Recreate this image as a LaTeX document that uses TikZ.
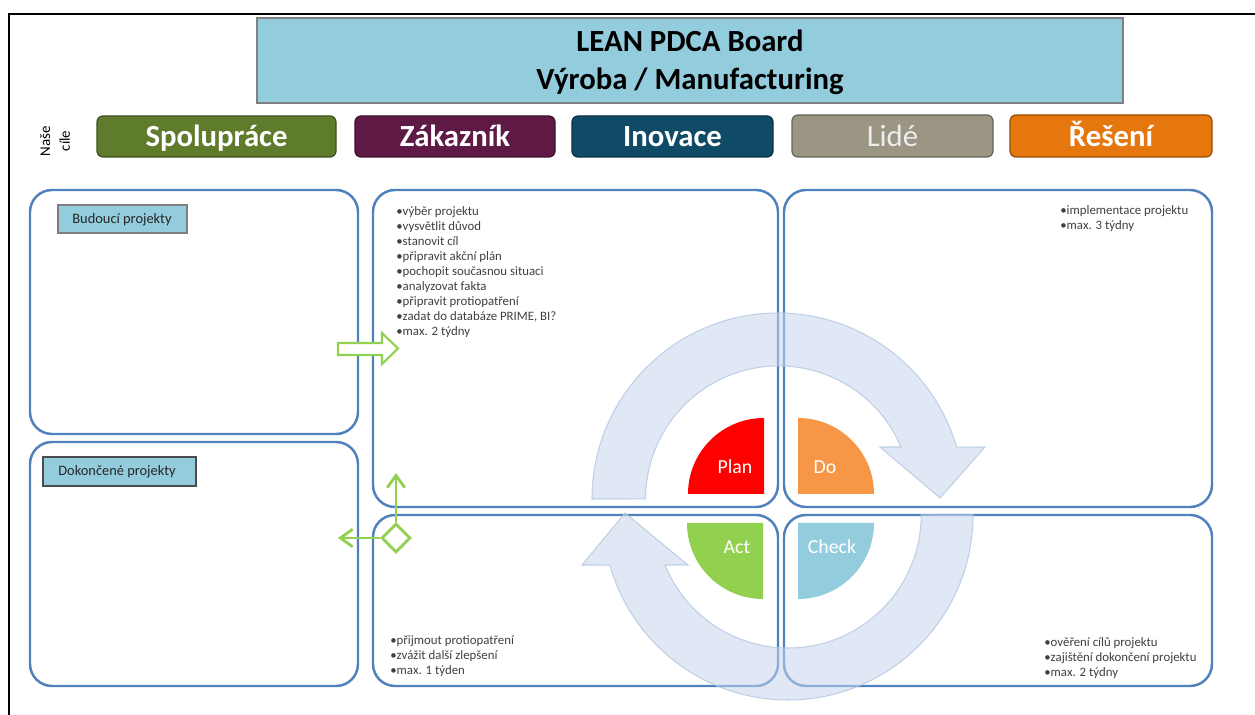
\documentclass[tikz,border=0pt]{standalone}
\usepackage{fontspec}
\setmainfont{Carlito}
\usetikzlibrary{arrows.meta,shapes.geometric,fit}

\definecolor{headfill}{HTML}{93CDDD}
\definecolor{cSpol}{HTML}{5F7B2C}
\definecolor{cZak}{HTML}{5E1A44}
\definecolor{cIno}{HTML}{0F4A66}
\definecolor{cLide}{HTML}{9B9683}
\definecolor{cRes}{HTML}{E6770F}
\definecolor{boardline}{HTML}{4F81BD}
\definecolor{listgray}{HTML}{404040}
\definecolor{cPlan}{HTML}{FF0000}
\definecolor{cDo}{HTML}{F79646}
\definecolor{cAct}{HTML}{92D050}
\definecolor{cCheck}{HTML}{93CDDD}
\definecolor{cycfill}{HTML}{C6D6EC}
\definecolor{cycline}{HTML}{B4C8E2}
\definecolor{flow}{HTML}{92D050}

\begin{document}
\begin{tikzpicture}[x=0.02cm,y=-0.02cm,
  header/.style={draw=black!50,line width=0.9pt,fill=headfill,inner sep=0pt},
  titletext/.style={font=\fontsize{17.5}{21}\bfseries,text=black,inner sep=0pt,anchor=base},
  goal/.style={draw=#1!65!black,line width=0.7pt,fill=#1,rounded corners=0.12cm,inner sep=0pt},
  goaltext/.style={text=white,font=\fontsize{17.5}{21}\bfseries,inner sep=0pt,anchor=base},
  board/.style={draw=boardline,line width=1.4pt,rounded corners=0.44cm,inner sep=0pt},
  tag/.style={draw=#1,line width=0.9pt,fill=headfill,inner sep=0pt},
  tagtext/.style={font=\fontsize{8.2}{10}\selectfont,text=black!85,inner sep=0pt,anchor=base},
  listtext/.style={font=\fontsize{7.3}{8.6}\selectfont,text=listgray,inner sep=0pt,anchor=base west},
  cyc/.style={fill=cycfill,fill opacity=0.55,draw=cycline,draw opacity=0.8,line width=0.6pt},
  quadtext/.style={font=\fontsize{11.3}{13}\selectfont,text=white,inner sep=0pt,anchor=base},
  blockarrow/.style={draw=flow,line width=1.2pt,fill=white,line join=miter},
  flowline/.style={draw=flow,line width=1.6pt,-{Straight Barb[length=7pt,width=10pt]}},
]
\useasboundingbox (0,0) rectangle (1255,715);
\fill[white] (0,0) rectangle (1255,715);

% outer frame
\draw[line width=1.1pt] (9,715) -- (9,14) -- (1255,14);

% title block
\node[header, fit={(257,18) (1123,103)}] (head) {};
\node[titletext] (title1) at (690,52) {LEAN PDCA Board};
\node[titletext] (title2) at (690,90) {Výroba / Manufacturing};

% goals row
\node[rotate=90, align=center, font=\fontsize{8.5}{11.3}\selectfont, inner sep=0pt]
  (goalslabel) at (55,141) {Naše\\cíle};
\node[goal=cSpol, fit={(97,116) (336,157)}] (spol) {};
\node[goal=cZak,  fit={(355,116) (555,157)}] (zak) {};
\node[goal=cIno,  fit={(572,116) (773,157)}] (ino) {};
\node[goal=cLide, fit={(792,115) (993,157)}] (lide) {};
\node[goal=cRes,  fit={(1010,115) (1212,157)}] (res) {};
\node[goaltext] (spoltext) at (216.5,147) {Spolupráce};
\node[goaltext] (zaktext) at (455,147) {Zákazník};
\node[goaltext] (inotext) at (672.5,147) {Inovace};
\node[goaltext, font=\fontsize{17.5}{21}\selectfont, text=white!93!black] (lidetext) at (892.5,147) {Lidé};
\node[goaltext] (restext) at (1111,147) {Řešení};

% board areas
\node[board, fit={(30,190) (358,434)}] (future) {};
\node[board, fit={(30,442) (358,686)}] (done) {};
\node[board, fit={(373,190) (778,507)}] (plan) {};
\node[board, fit={(784,190) (1212,507)}] (do) {};
\node[board, fit={(373,515) (778,686)}] (act) {};
\node[board, fit={(784,515) (1212,686)}] (check) {};

\node[tag=black!50, fit={(58,205) (187,233)}] (futuretag) {};
\node[tag=black!70, fit={(43,457) (196,486)}] (donetag) {};
\node[tagtext] (futuretext) at (122,224) {Budoucí projekty};
\node[tagtext] (donetext) at (117,476) {Dokončené projekty};

% step lists
\foreach \t [count=\i] in {•výběr projektu,•vysvětlit důvod,•stanovit cíl,
  •připravit akční plán,•pochopit současnou situaci,•analyzovat fakta,
  •připravit protiopatření,{•zadat do databáze PRIME, BI?},•max. 2 týdny}
  \node[listtext] (planitem\i) at (396,200+15.1*\i) {\t};
\foreach \t [count=\i] in {•implementace projektu,•max. 3 týdny}
  \node[listtext] (doitem\i) at (1060,200+15*\i) {\t};
\foreach \t [count=\i] in {•přijmout protiopatření,•zvážit další zlepšení,•max. 1 týden}
  \node[listtext] (actitem\i) at (390,630+15*\i) {\t};
\foreach \t [count=\i] in {•ověření cílů projektu,•zajištění dokončení projektu,•max. 2 týdny}
  \node[listtext] (checkitem\i) at (1044,632+15*\i) {\t};

% PDCA cycle arrows
\draw[cyc] (592,499) arc[start angle=180, end angle=343.8, radius=186]
  -- (985,447) -- (940,498) -- (880,447) -- (901,447)
  arc[start angle=337, end angle=180, radius=133] -- cycle;
\draw[cyc] (973,515) arc[start angle=0, end angle=164.3, radius=185]
  -- (582,565) -- (625,513) -- (688,565) -- (665,565)
  arc[start angle=157.9, end angle=0, radius=133] -- cycle;

% PDCA quarters
\fill[cPlan] (764,494) -- (688,494) arc[start angle=180, end angle=270, radius=76] -- cycle;
\fill[cDo] (798,494) -- (798,418) arc[start angle=270, end angle=360, radius=76] -- cycle;
\fill[cAct] (763,523) -- (763,599) arc[start angle=90, end angle=180, radius=76] -- cycle;
\fill[cCheck] (798,523) -- (874,523) arc[start angle=0, end angle=90, radius=76] -- cycle;
\node[quadtext] (plantext) at (735,474) {Plan};
\node[quadtext] (dotext) at (825,474) {Do};
\node[quadtext] (acttext) at (737,554) {Act};
\node[quadtext] (checktext) at (832,554) {Check};

% project flow markers
\draw[blockarrow] (338,343) -- (382,343) -- (382,333) -- (398,348.5) -- (382,364)
  -- (382,355) -- (338,355) -- cycle;
\node[diamond, draw=flow, line width=1.6pt, fill=white, minimum width=0.58cm,
  minimum height=0.58cm, inner sep=0pt] (decide) at (396,538) {};
\coordinate (upend) at (396,473);
\coordinate (leftend) at (338,538);
\draw[flowline] (decide.north) -- (upend);
\draw[flowline] (decide.west) -- (leftend);
\end{tikzpicture}
\end{document}
